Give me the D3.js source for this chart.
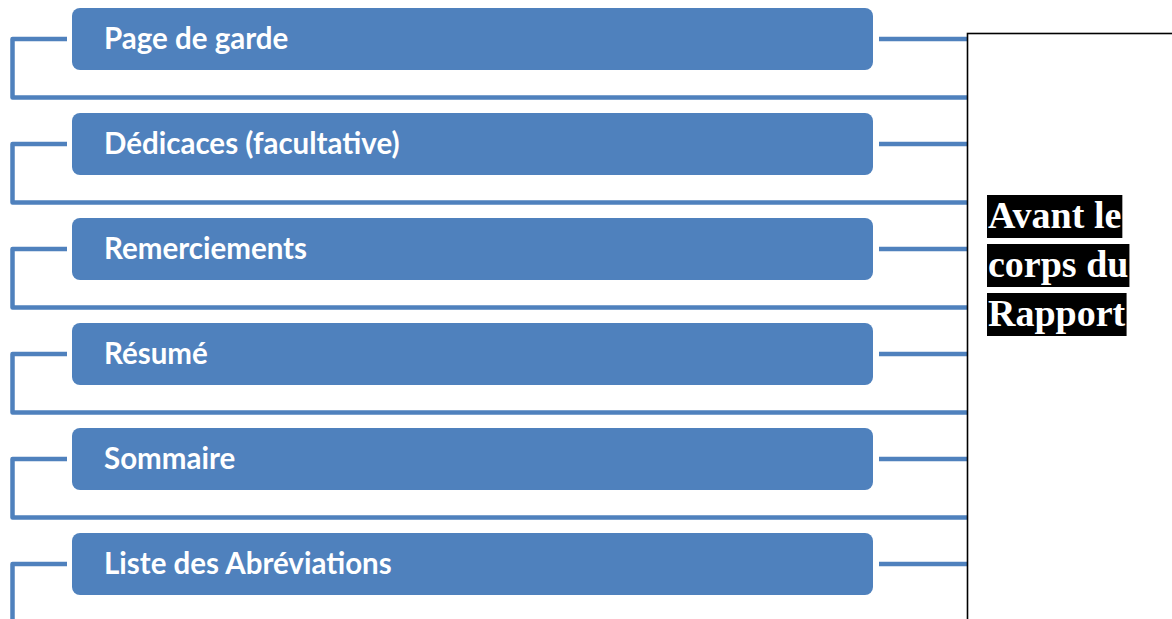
<!DOCTYPE html>
<html>
<head>
<meta charset="utf-8">
<script src="https://cdn.jsdelivr.net/npm/d3@7"></script>
<style>
  html, body { margin: 0; padding: 0; background: #fff; }
  svg { display: block; }
</style>
</head>
<body>
<svg id="chart" width="1172" height="619"></svg>
<script>
// Data
const items = ["Page de garde", "Dédicaces (facultative)", "Remerciements", "Résumé", "Sommaire", "Liste des Abréviations"];
const sideLines = ["Avant le", "corps du", "Rapport"];

const W = 1172, H = 619;
const blue = "#4F81BD";
const svg = d3.select("#chart");

const idx = d3.range(items.length);
const yTop = d3.scaleLinear().domain([0, 1]).range([8, 113]);
const boxH = 62;
const boxX0 = 72, boxX1 = 873;
const bracketX = 12.5, stubL = 67, stubR = 879, frameX = 967;

// connectors
const g = svg.append("g");
idx.forEach(i => {
  const cy = yTop(i) + boxH / 2;
  const by = cy + 58.5;
  g.append("path")
    .attr("d", `M${stubL},${cy} H${bracketX} V${by} H${frameX}`)
    .attr("fill", "none").attr("stroke", blue).attr("stroke-width", 4.5)
    .attr("stroke-linejoin", "round");
  g.append("line")
    .attr("x1", stubR).attr("x2", frameX).attr("y1", cy).attr("y2", cy)
    .attr("stroke", blue).attr("stroke-width", 4.5);
});

// boxes
const boxes = svg.append("g").selectAll("g").data(items).join("g")
  .attr("transform", (d, i) => `translate(0,${yTop(i)})`);
boxes.append("rect")
  .attr("x", boxX0).attr("y", 0).attr("width", boxX1 - boxX0).attr("height", boxH)
  .attr("rx", 8).attr("ry", 8).attr("fill", blue);
boxes.append("text")
  .attr("x", 104).attr("y", boxH / 2 + 10)
  .attr("fill", "#fff")
  .attr("font-family", "Lato, 'Open Sans', sans-serif")
  .attr("font-weight", "bold")
  .attr("font-size", 29.5)
  .text(d => d);

// frame
svg.append("rect")
  .attr("x", frameX + 0.5).attr("y", 33.5).attr("width", 400).attr("height", 800)
  .attr("fill", "#fff").attr("stroke", "#000").attr("stroke-width", 1.6);

// side label with black highlight
const lineY = d3.scaleLinear().domain([0, 1]).range([195, 244]);
const side = svg.append("g").selectAll("g").data(sideLines).join("g");
const sideTexts = side.append("text")
  .attr("x", 988).attr("y", (d, i) => lineY(i) + 33)
  .attr("fill", "#fff")
  .attr("font-family", "'Liberation Serif', 'Times New Roman', serif")
  .attr("font-weight", "bold")
  .attr("font-size", 38)
  .text(d => d);
sideTexts.each(function(d, i) {
  const bb = this.getBBox();
  d3.select(this.parentNode).insert("rect", "text")
    .attr("x", 987).attr("y", lineY(i)).attr("width", bb.width + 2).attr("height", 43)
    .attr("fill", "#000");
});
</script>
</body>
</html>
